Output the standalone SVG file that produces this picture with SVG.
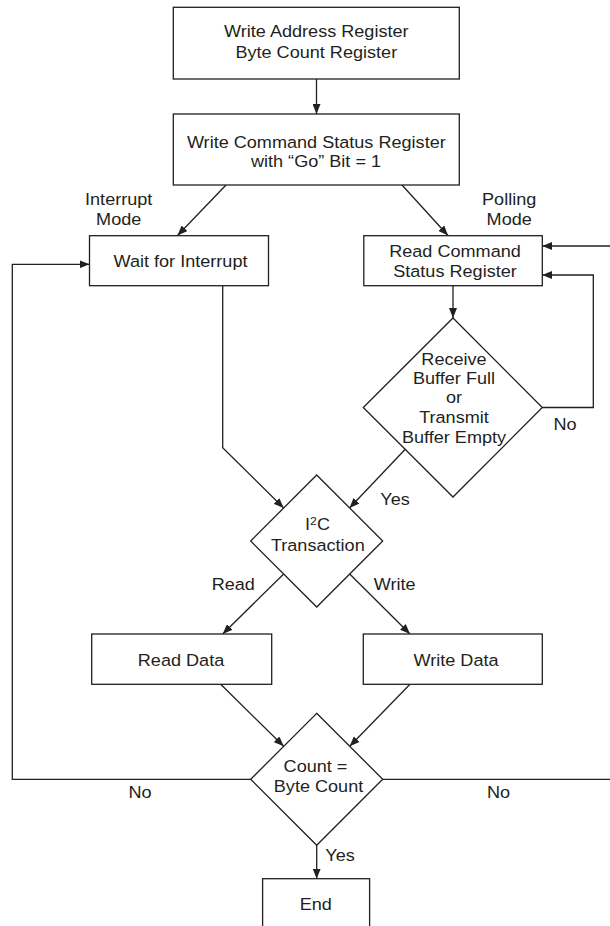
<svg xmlns="http://www.w3.org/2000/svg" width="610" height="926" viewBox="0 0 610 926">
<style>
.box{fill:#fff;stroke:#231f20;stroke-width:1.3}
.ln{fill:none;stroke:#231f20;stroke-width:1.3}
.t{font-family:"Liberation Sans",Arial,Helvetica,sans-serif;font-size:16.3px;fill:#231f20;text-anchor:middle}
</style>
<defs>
<marker id="ah" viewBox="0 0 10 8" refX="10" refY="4" markerWidth="10" markerHeight="8" markerUnits="userSpaceOnUse" orient="auto">
<path d="M0,0 L10,4 L0,8 z" fill="#231f20"/>
</marker>
</defs>
<rect width="610" height="926" fill="#fff"/>
<g id="connectors">
<path class="ln" d="M316.5,79 L316.5,114" marker-end="url(#ah)"/>
<path class="ln" d="M226,185 L177.5,235.5" marker-end="url(#ah)"/>
<path class="ln" d="M402,185 L448,235.5" marker-end="url(#ah)"/>
<path class="ln" d="M453,286 L453,318" marker-end="url(#ah)"/>
<path class="ln" d="M542.3,407.5 L593.3,407.5 L593.3,275 L542.3,275" marker-end="url(#ah)"/>
<path class="ln" d="M611,246 L542.3,246" marker-end="url(#ah)"/>
<path class="ln" d="M222.7,286 L222.7,447.7 L283.7,508" marker-end="url(#ah)"/>
<path class="ln" d="M405,449.5 L349.5,508" marker-end="url(#ah)"/>
<path class="ln" d="M283.7,574 L222.7,634" marker-end="url(#ah)"/>
<path class="ln" d="M349.7,574 L410,634" marker-end="url(#ah)"/>
<path class="ln" d="M220.7,684.3 L283.7,746.3" marker-end="url(#ah)"/>
<path class="ln" d="M410,684.3 L349.7,746.3" marker-end="url(#ah)"/>
<path class="ln" d="M250.7,779.3 L12.3,779.3 L12.3,264.3 L89.5,264.3" marker-end="url(#ah)"/>
<path class="ln" d="M382.7,779.3 L611,779.3"/>
<path class="ln" d="M316.7,845.3 L316.7,878.7" marker-end="url(#ah)"/>
</g>
<g id="n-write-address">
<rect class="box" x="173.3" y="7.3" width="286" height="71.7"/>
<text class="t" transform="translate(316.3 36.7) scale(1.11 1)">Write Address Register</text>
<text class="t" transform="translate(316.3 58.3) scale(1.11 1)">Byte Count Register</text>
</g>
<g id="n-write-command">
<rect class="box" x="173.3" y="114" width="286" height="71"/>
<text class="t" transform="translate(316.3 148.3) scale(1.11 1)">Write Command Status Register</text>
<text class="t" transform="translate(316 167) scale(1.11 1)">with “Go” Bit = 1</text>
</g>
<g id="lbl-interrupt-mode">
<text class="t" transform="translate(118.7 205) scale(1.11 1)">Interrupt</text>
<text class="t" transform="translate(118.7 225) scale(1.11 1)">Mode</text>
</g>
<g id="lbl-polling-mode">
<text class="t" transform="translate(509.2 205) scale(1.11 1)">Polling</text>
<text class="t" transform="translate(509.2 225) scale(1.11 1)">Mode</text>
</g>
<g id="n-wait">
<rect class="box" x="89.5" y="235.7" width="179" height="50"/>
<text class="t" transform="translate(180.5 266.7) scale(1.11 1)">Wait for Interrupt</text>
</g>
<g id="n-read-cmd">
<rect class="box" x="363.8" y="235.7" width="178.5" height="50"/>
<text class="t" transform="translate(455 256.7) scale(1.11 1)">Read Command</text>
<text class="t" transform="translate(455 277.3) scale(1.11 1)">Status Register</text>
</g>
<g id="n-buffer-check">
<polygon class="box" points="453,318 542.3,407.5 453,497 363.3,407.5"/>
<text class="t" transform="translate(454 365) scale(1.11 1)">Receive</text>
<text class="t" transform="translate(454 383.5) scale(1.11 1)">Buffer Full</text>
<text class="t" transform="translate(454 403) scale(1.11 1)">or</text>
<text class="t" transform="translate(454 423) scale(1.11 1)">Transmit</text>
<text class="t" transform="translate(454 443) scale(1.11 1)">Buffer Empty</text>
</g>
<g id="lbl-no-poll"><text class="t" transform="translate(565 430) scale(1.11 1)">No</text></g>
<g id="lbl-yes-poll"><text class="t" transform="translate(395 505) scale(1.11 1)">Yes</text></g>
<g id="n-i2c">
<polygon class="box" points="316.7,475 382.7,541 316.7,607 250.7,541"/>
<text class="t" transform="translate(317.5 530) scale(1.11 1)">I<tspan font-size="11" dy="-5">2</tspan><tspan dy="5">C</tspan></text>
<text class="t" transform="translate(317.8 550.7) scale(1.11 1)">Transaction</text>
</g>
<g id="lbl-read"><text class="t" transform="translate(233.3 590) scale(1.11 1)">Read</text></g>
<g id="lbl-write"><text class="t" transform="translate(394.7 590) scale(1.11 1)">Write</text></g>
<g id="n-read-data">
<rect class="box" x="91.7" y="634" width="180" height="50.3"/>
<text class="t" transform="translate(181 665.7) scale(1.11 1)">Read Data</text>
</g>
<g id="n-write-data">
<rect class="box" x="363.3" y="634" width="179" height="50.3"/>
<text class="t" transform="translate(456 665.7) scale(1.11 1)">Write Data</text>
</g>
<g id="n-count">
<polygon class="box" points="316.7,713.3 382.7,779.3 316.7,845.3 250.7,779.3"/>
<text class="t" transform="translate(315.5 771.7) scale(1.11 1)">Count =</text>
<text class="t" transform="translate(318.5 791.7) scale(1.11 1)">Byte Count</text>
</g>
<g id="lbl-no-left"><text class="t" transform="translate(140 798.3) scale(1.11 1)">No</text></g>
<g id="lbl-no-right"><text class="t" transform="translate(498.5 798.3) scale(1.11 1)">No</text></g>
<g id="lbl-yes-end"><text class="t" transform="translate(340 860.7) scale(1.11 1)">Yes</text></g>
<g id="n-end">
<rect class="box" x="262.6" y="878.7" width="107" height="60"/>
<text class="t" transform="translate(315.8 910) scale(1.11 1)">End</text>
</g>
</svg>
